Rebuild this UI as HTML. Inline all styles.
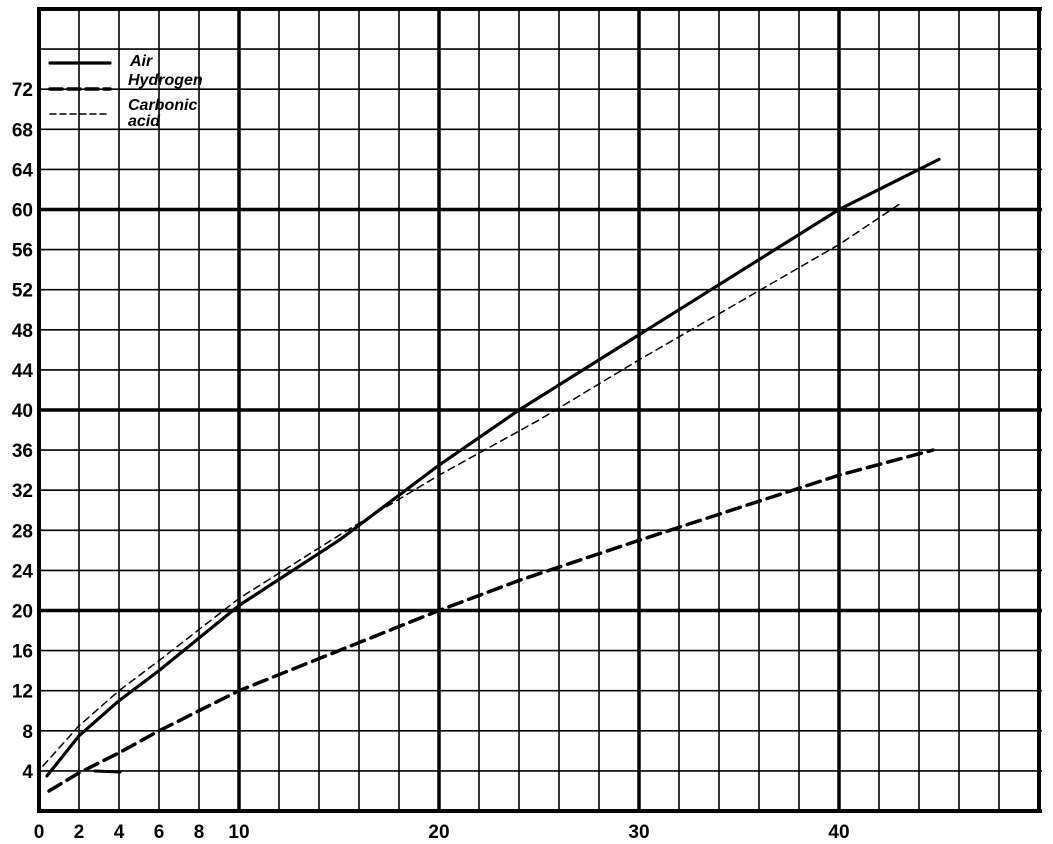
<!DOCTYPE html>
<html><head><style>body{margin:0;background:#fff}svg{display:block}text{font-family:"Liberation Sans",sans-serif;font-weight:bold;fill:#000}</style></head><body>
<svg id="svg" width="1053" height="844" viewBox="0 0 1053 844" xmlns="http://www.w3.org/2000/svg">
<g id="grid" stroke="#000"></g>
<g fill="none" stroke="#000" stroke-linecap="round" stroke-linejoin="round">
<polyline id="air" stroke-width="3.2"/>
<polyline id="co2" stroke-width="1.5" stroke-dasharray="7,5"/>
<polyline id="h2" stroke-width="3.5" stroke-dasharray="14,7"/>
<line x1="95" y1="771" x2="120" y2="772" stroke-width="3"/>
<line x1="50" y1="63" x2="110" y2="63" stroke-width="3.2"/>
<line x1="50" y1="89" x2="110" y2="89" stroke-width="3.5" stroke-dasharray="12,6"/>
<line x1="50" y1="114" x2="110" y2="114" stroke-width="1.5" stroke-dasharray="6,4"/>
</g>
<g font-style="italic" font-size="16">
<text x="130" y="66">Air</text><text x="128" y="85">Hydrogen</text><text x="128" y="110">Carbonic</text><text x="128" y="126">acid</text>
</g>
<g id="lab" font-size="19"></g>
</svg>
<script>
var NS="http://www.w3.org/2000/svg";
var X=function(u){return 39+20*u},Y=function(v){return 811-10.025*v};
function el(parent,tag,attrs,txt){var e=document.createElementNS(NS,tag);for(var k in attrs)e.setAttribute(k,attrs[k]);if(txt!==undefined)e.textContent=txt;document.getElementById(parent).appendChild(e);}
for(var u=0;u<=50;u+=2){var w=(u%10==0)?3.5:1.6;if(u==0||u==50)w=4;el('grid','line',{x1:X(u),y1:9,x2:X(u),y2:811,'stroke-width':w});}
for(var v=0;v<=80;v+=4){var w=(v%20==0)?3.5:1.6;if(v==0||v==80)w=4;el('grid','line',{x1:37,y1:Y(v),x2:1042,y2:Y(v),'stroke-width':w});}
function p(id,a){document.getElementById(id).setAttribute('points',a.map(function(q){return X(q[0])+','+Y(q[1])}).join(' '));}
p('air',[[0.4,3.5],[2,7.5],[4,11],[6,14],[10,20.5],[15,27],[20,34.5],[24,40],[30,47.5],[40,60],[45,65]]);
p('co2',[[0.2,4.5],[2,8.5],[4,12],[6,15],[10,21.2],[15,27.5],[20,33.5],[25,39],[30,45],[40,56.5],[43,60.5]]);
p('h2',[[0.5,2],[2,3.8],[4,5.8],[6,8],[10,12],[15,16],[20,20],[24,23],[30,27],[40,33.5],[44.7,36]]);
for(var v=4;v<=72;v+=4)el('lab','text',{x:33,y:Y(v)+7,'text-anchor':'end'},String(v));
[0,2,4,6,8,10,20,30,40].forEach(function(u){el('lab','text',{x:X(u),y:838,'text-anchor':'middle'},String(u));});
</script>
</body></html>
